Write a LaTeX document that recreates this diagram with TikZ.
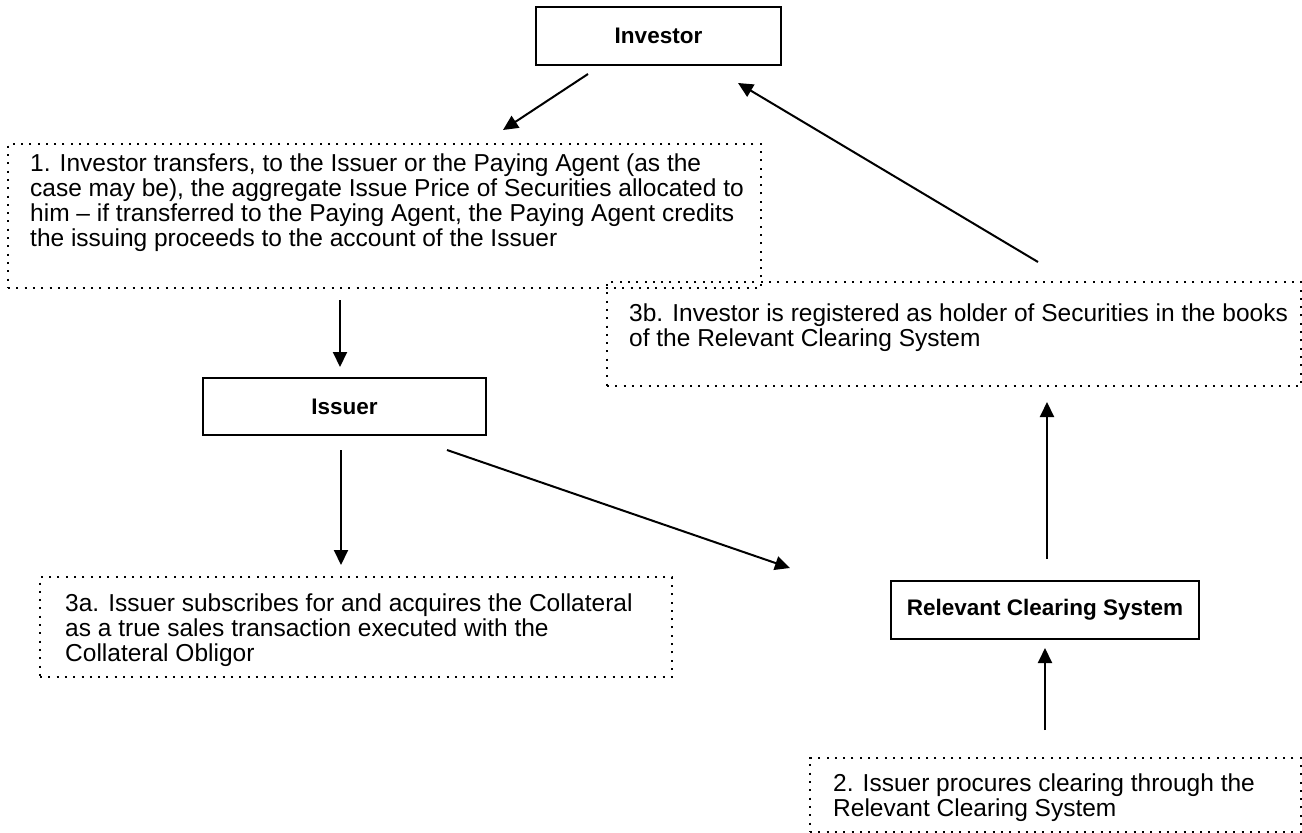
\documentclass[tikz,border=0pt]{standalone}
\usepackage{fontspec}
\setmainfont{Liberation Sans}
\usetikzlibrary{arrows.meta}
\begin{document}
\begin{tikzpicture}[x=1pt,y=-1pt,
  solidbox/.style={draw, line width=2.3pt, font=\bfseries\fontsize{22.5}{25}\selectfont, inner sep=0pt},
  dotbox/.style={draw, line width=2pt, dash pattern=on 2pt off 6.3pt, inner sep=0pt},
  txt/.style={anchor=north west, align=left, inner sep=0pt, font=\fontsize{24.5}{25}\selectfont},
  arr/.style={line width=2pt, -{Triangle[length=15pt,width=14pt]}}]
\useasboundingbox (0,0) rectangle (1302,833);
% solid boxes
\node[solidbox, minimum width=245pt, minimum height=58pt] (inv) at (658.5,36) {Investor};
\node[solidbox, minimum width=283pt, minimum height=57pt] (iss) at (344.5,406.5) {Issuer};
\node[solidbox, minimum width=308pt, minimum height=58pt] (rcs) at (1045,610) {Relevant Clearing System};
% dotted boxes
\node[dotbox, minimum width=753pt, minimum height=144pt] (b1) at (384.5,216) {};
\node[dotbox, minimum width=694pt, minimum height=104pt] (b3b) at (954,334) {};
\node[dotbox, minimum width=632pt, minimum height=100pt] (b3a) at (356,627) {};
\node[dotbox, minimum width=491pt, minimum height=74pt] (b2) at (1055.5,795) {};
% texts
\node[txt] (t1) at (30,153.5) {1. Investor transfers, to the Issuer or the Paying Agent (as the\\case may be), the aggregate Issue Price of Securities allocated to\\him -- if transferred to the Paying Agent, the Paying Agent credits\\the issuing proceeds to the account of the Issuer};
\node[txt] (t3b) at (629,303.5) {3b. Investor is registered as holder of Securities in the books\\of the Relevant Clearing System};
\node[txt] (t3a) at (65,593.5) {3a. Issuer subscribes for and acquires the Collateral\\as a true sales transaction executed with the\\Collateral Obligor};
\node[txt] (t2) at (833,773.5) {2. Issuer procures clearing through the\\Relevant Clearing System};
% arrow end points
\coordinate (a1s) at (588,74);   \coordinate (a1e) at (503,130);
\coordinate (a2s) at (1038,262); \coordinate (a2e) at (738,83);
\coordinate (a3s) at (340,300);  \coordinate (a3e) at (340,367);
\coordinate (a4s) at (341,450);  \coordinate (a4e) at (341,565);
\coordinate (a5s) at (447,450);  \coordinate (a5e) at (790,568);
\coordinate (a6s) at (1047,559); \coordinate (a6e) at (1047,402);
\coordinate (a7s) at (1045,730); \coordinate (a7e) at (1045,648);
\draw[arr] (a1s) -- (a1e);
\draw[arr] (a2s) -- (a2e);
\draw[arr] (a3s) -- (a3e);
\draw[arr] (a4s) -- (a4e);
\draw[arr] (a5s) -- (a5e);
\draw[arr] (a6s) -- (a6e);
\draw[arr] (a7s) -- (a7e);
\end{tikzpicture}
\end{document}
